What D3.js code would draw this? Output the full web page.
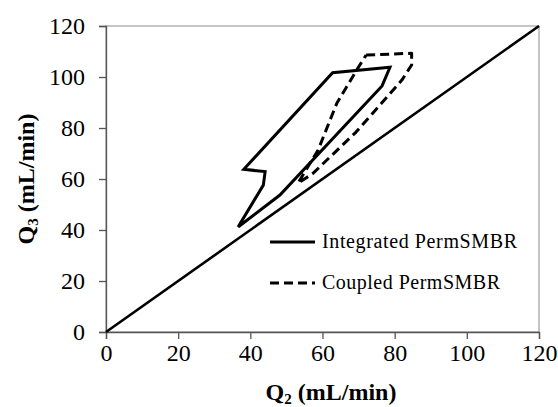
<!DOCTYPE html>
<html>
<head>
<meta charset="utf-8">
<script src="https://cdn.jsdelivr.net/npm/d3@7"></script>
<style>
    body { margin: 0; background: #fff; }
</style>
</head>
<body>
<div id="chart"></div>
<script>
const width = 558;
const height = 407;
const margin = { top: 26, right: 19, bottom: 75, left: 106 };
const serif = "'Liberation Serif', 'Times New Roman', serif";

const xTicks = [0, 20, 40, 60, 80, 100, 120];
const yTicks = [0, 20, 40, 60, 80, 100, 120];

// Q2, Q3 pairs
const integratedQ2 = [36.6, 43.6, 44.1, 38.2, 62.8, 78.7, 76.5, 48.2, 36.6];
const integratedQ3 = [41.2, 57.6, 62.9, 63.8, 101.7, 103.8, 96.5, 53.7, 41.2];

const coupledQ2 = [72.1, 84.7, 84.7, 82.0, 69.3, 57.2, 53.2, 55.4, 58.8, 64.0, 69.8, 72.1];
const coupledQ3 = [108.6, 109.3, 104.7, 98.8, 78.4, 62.0, 58.4, 63.5, 71.4, 89.8, 103.5, 108.6];

const diagonalQ2 = [0, 120];
const diagonalQ3 = [0, 120];

const legendNames = ["Integrated PermSMBR", "Coupled PermSMBR"];

const toPoints = (xs, ys) => xs.map((x, i) => [x, ys[i]]);

const innerW = width - margin.left - margin.right;
const innerH = height - margin.top - margin.bottom;

const x = d3.scaleLinear().domain([0, 120]).range([0, innerW]);
const y = d3.scaleLinear().domain([0, 120]).range([innerH, 0]);

const svg = d3.select("#chart")
    .append("svg")
    .attr("width", width)
    .attr("height", height);

const g = svg.append("g")
    .attr("transform", `translate(${margin.left},${margin.top})`);

// plot area frame
g.append("rect")
    .attr("width", innerW)
    .attr("height", innerH)
    .attr("fill", "none")
    .attr("stroke", "#8c8c8c")
    .attr("stroke-width", 1);

const line = d3.line().x(d => x(d[0])).y(d => y(d[1]));

// Axes
const xAxis = g.append("g")
    .attr("transform", `translate(0,${innerH})`)
    .call(d3.axisBottom(x).tickValues(xTicks).tickSize(7).tickPadding(5));

const yAxis = g.append("g")
    .call(d3.axisLeft(y).tickValues(yTicks).tickSize(7).tickPadding(14));

[xAxis, yAxis].forEach(a => {
    a.attr("font-family", serif).attr("font-size", 24);
    a.select(".domain").attr("stroke", "#555").attr("stroke-width", 1.3);
    a.selectAll(".tick line").attr("stroke", "#555").attr("stroke-width", 1.3);
    a.selectAll(".tick text").attr("fill", "#000");
});

// Series
g.append("path")
    .datum(toPoints(diagonalQ2, diagonalQ3))
    .attr("d", line)
    .attr("fill", "none")
    .attr("stroke", "#000")
    .attr("stroke-width", 2.6);

g.append("path")
    .datum(toPoints(integratedQ2, integratedQ3))
    .attr("d", line)
    .attr("fill", "none")
    .attr("stroke", "#000")
    .attr("stroke-width", 3)
    .attr("stroke-linejoin", "miter");

g.append("path")
    .datum(toPoints(coupledQ2, coupledQ3))
    .attr("d", line)
    .attr("fill", "none")
    .attr("stroke", "#000")
    .attr("stroke-width", 3)
    .attr("stroke-dasharray", "9,5")
    .attr("stroke-linejoin", "round");

// Legend
const legend = svg.append("g")
    .attr("transform", "translate(270,242)")
    .attr("font-family", serif)
    .attr("font-size", 20);

const legendWidths = [195, 178];

legendNames.forEach((name, i) => {
    const row = legend.append("g").attr("transform", `translate(0,${i * 41})`);
    row.append("line")
        .attr("x1", 0).attr("x2", 45)
        .attr("stroke", "#000")
        .attr("stroke-width", 3)
        .attr("stroke-dasharray", i ? "9,5" : null);
    row.append("text")
        .attr("x", 52)
        .attr("y", 6)
        .attr("textLength", legendWidths[i])
        .text(name);
});

// Axis titles
const addTitle = (sub) => {
    const t = svg.append("text")
        .attr("font-family", serif)
        .attr("font-size", 24)
        .attr("font-weight", "bold")
        .attr("text-anchor", "middle");
    t.append("tspan").text("Q");
    t.append("tspan").attr("dy", 4).attr("font-size", 15).text(sub);
    t.append("tspan").attr("dy", -4).text(" (mL/min)");
    return t;
};

addTitle("2")
    .attr("x", 331)
    .attr("y", 400);

addTitle("3")
    .attr("transform", `translate(34,${margin.top + innerH / 2}) rotate(-90)`);
</script>
</body>
</html>
